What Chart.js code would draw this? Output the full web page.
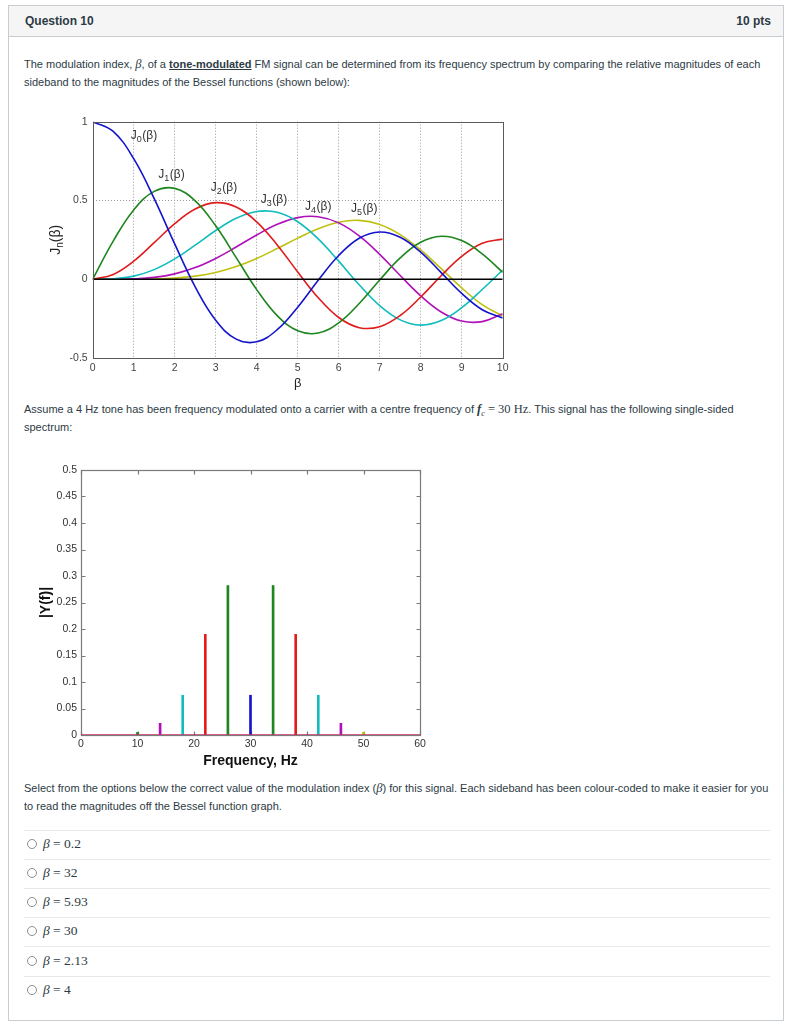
<!DOCTYPE html>
<html>
<head>
<meta charset="utf-8">
<script src="https://cdn.jsdelivr.net/npm/chart.js@4.4.0/dist/chart.umd.min.js"></script>
<style>
  body { margin: 0; background: #fff; font-family: "Liberation Sans", Arial, sans-serif; color: #2d3b45; }
  #card { position: absolute; left: 8px; top: 5px; width: 774px; height: 1014px; border: 1px solid #c7cdd1; }
  #head { position: absolute; left: 0; top: 0; width: 774px; height: 30px; background: #f5f5f5; border-bottom: 1px solid #c7cdd1; }
  #head b { position: absolute; top: 8px; font-size: 12px; }
  .t { position: absolute; left: 24px; font-size: 11px; line-height: 14px; white-space: nowrap; }
  .m { font-family: "Liberation Serif", "DejaVu Serif", serif; font-style: italic; font-size: 12.5px; }
  .r { font-family: "Liberation Serif", "DejaVu Serif", serif; font-size: 12.5px; }
  .sep { position: absolute; left: 24px; width: 746px; height: 1px; background: #e6e8ea; }
  .opt { position: absolute; left: 27px; font-family: "Liberation Serif", "DejaVu Serif", serif; font-size: 13.5px; line-height: 14px; white-space: nowrap; }
  .opt span { display: inline-block; width: 8px; height: 8px; border: 1px solid #8a8f94; border-radius: 50%; margin-right: 6px; vertical-align: -1px; }
  canvas { position: absolute; }
</style>
</head>
<body>
<div id="card">
  <div id="head"><b style="left:16px">Question 10</b><b style="right:12px">10 pts</b></div>
</div>

<div class="t" style="top:57px">The modulation index, <span class="m">β</span>, of a <b><u>tone-modulated</u></b> FM signal can be determined from its frequency spectrum by comparing the relative magnitudes of each</div>
<div class="t" style="top:75px">sideband to the magnitudes of the Bessel functions (shown below):</div>

<canvas id="bessel" width="500" height="285" style="left:20px;top:110px"></canvas>

<div class="t" style="top:402px">Assume a 4 Hz tone has been frequency modulated onto a carrier with a centre frequency of <span class="m"><b>f</b></span><sub style="font-size:8px" class="m">c</sub> <span class="r">= 30 Hz</span>. This signal has the following single-sided</div>
<div class="t" style="top:420px">spectrum:</div>

<canvas id="spectrum" width="420" height="320" style="left:20px;top:455px"></canvas>

<div class="t" style="top:781px">Select from the options below the correct value of the modulation index (<span class="m">β</span>) for this signal. Each sideband has been colour-coded to make it easier for you</div>
<div class="t" style="top:799px">to read the magnitudes off the Bessel function graph.</div>

<div class="sep" style="top:830px"></div>
<div class="opt" style="top:837px"><span></span><i>β</i> = 0.2</div>
<div class="sep" style="top:859px"></div>
<div class="opt" style="top:866px"><span></span><i>β</i> = 32</div>
<div class="sep" style="top:888px"></div>
<div class="opt" style="top:895px"><span></span><i>β</i> = 5.93</div>
<div class="sep" style="top:917px"></div>
<div class="opt" style="top:924px"><span></span><i>β</i> = 30</div>
<div class="sep" style="top:946px"></div>
<div class="opt" style="top:954px"><span></span><i>β</i> = 2.13</div>
<div class="sep" style="top:976px"></div>
<div class="opt" style="top:983px"><span></span><i>β</i> = 4</div>

<script>
// Bessel curves, every 0.5 in beta
var beta = [0, 0.5, 1, 1.5, 2, 2.5, 3, 3.5, 4, 4.5, 5, 5.5, 6, 6.5, 7, 7.5, 8, 8.5, 9, 9.5, 10];
var J0 = [1, 0.9385, 0.7652, 0.5118, 0.2239, -0.0484, -0.2601, -0.3801, -0.3971, -0.3205, -0.1776, -0.0068, 0.1506, 0.2601, 0.3001, 0.2663, 0.1717, 0.0419, -0.0903, -0.1939, -0.2459];
var J1 = [0, 0.2423, 0.4401, 0.5579, 0.5767, 0.4971, 0.3391, 0.1374, -0.0660, -0.2311, -0.3276, -0.3414, -0.2767, -0.1538, -0.0047, 0.1352, 0.2346, 0.2731, 0.2453, 0.1613, 0.0435];
var J2 = [0, 0.0306, 0.1149, 0.2321, 0.3528, 0.4461, 0.4861, 0.4586, 0.3641, 0.2178, 0.0466, -0.1173, -0.2429, -0.3074, -0.3014, -0.2303, -0.1130, 0.0223, 0.1448, 0.2279, 0.2546];
var J3 = [0, 0.0026, 0.0196, 0.0610, 0.1289, 0.2166, 0.3091, 0.3868, 0.4302, 0.4247, 0.3648, 0.2561, 0.1148, -0.0354, -0.1676, -0.2580, -0.2911, -0.2626, -0.1809, -0.0653, 0.0583];
var J4 = [0, 0.0002, 0.0025, 0.0118, 0.0340, 0.0737, 0.1321, 0.2044, 0.2811, 0.3484, 0.3912, 0.3967, 0.3576, 0.2748, 0.1578, 0.0239, -0.1054, -0.2077, -0.2655, -0.2691, -0.2196];
var J5 = [0, 0, 0.0003, 0.0018, 0.0070, 0.0195, 0.0430, 0.0804, 0.1320, 0.1947, 0.2611, 0.3209, 0.3621, 0.3736, 0.3479, 0.2835, 0.1857, 0.0671, -0.0551, -0.1613, -0.2340];
var besselNames = ['0', '1', '2', '3', '4', '5'];
var betaTicks = [0, 1, 2, 3, 4, 5, 6, 7, 8, 9, 10];
var jTicks = [-0.5, 0, 0.5, 1];
var jLabels = ['-0.5', '0', '0.5', '1'];

// single-sided spectrum
var specFreq = [10, 14, 18, 22, 26, 30, 34, 38, 42, 46, 50];
var specMag = [0.005, 0.022, 0.075, 0.19, 0.282, 0.075, 0.282, 0.19, 0.075, 0.022, 0.005];
var freqTicks = [0, 10, 20, 30, 40, 50, 60];
var magTicks = [0, 0.05, 0.1, 0.15, 0.2, 0.25, 0.3, 0.35, 0.4, 0.45, 0.5];
var magLabels = ['0', '0.05', '0.1', '0.15', '0.2', '0.25', '0.3', '0.35', '0.4', '0.45', '0.5'];

var blue = '#1414cc', green = '#1e861e', red = '#e01c1c', cyan = '#10bcbc', magenta = '#b010b8', yellow = '#c0c010';
var besselColors = [blue, green, red, cyan, magenta, yellow];
var specColors = [green, magenta, cyan, red, green, blue, green, red, cyan, magenta, yellow];
var labelAt = [[0.93, 0.89], [1.6, 0.64], [2.88, 0.56], [4.1, 0.485], [5.18, 0.442], [6.3, 0.427]];

var tickFont = { family: '"Liberation Sans", Arial, sans-serif', size: 10.5 };

function pts(ys) {
    return beta.map(function (b, i) { return { x: b, y: ys[i] }; });
}
function fixTicks(list) {
    return function (scale) { scale.ticks = list.map(function (v) { return { value: v }; }); };
}

var besselDecor = {
    id: 'besselDecor',
    afterDraw: function (chart) {
        var ctx = chart.ctx, a = chart.chartArea, x = chart.scales.x, y = chart.scales.y;
        ctx.save();
        ctx.strokeStyle = '#5a5a5a';
        ctx.lineWidth = 1;
        ctx.strokeRect(Math.round(a.left) + 0.5, Math.round(a.top) + 0.5, Math.round(a.right - a.left), Math.round(a.bottom - a.top));

        ctx.fillStyle = '#333';
        ctx.textAlign = 'left';
        ctx.textBaseline = 'alphabetic';
        besselNames.forEach(function (n, i) {
            var px = x.getPixelForValue(labelAt[i][0]);
            var py = y.getPixelForValue(labelAt[i][1]);
            ctx.font = '12px "Liberation Sans", Arial, sans-serif';
            ctx.fillText('J', px, py);
            px += ctx.measureText('J').width;
            ctx.font = '9px "Liberation Sans", Arial, sans-serif';
            ctx.fillText(n, px, py + 3);
            px += ctx.measureText(n).width + 0.5;
            ctx.font = '12px "Liberation Sans", Arial, sans-serif';
            ctx.fillText('(β)', px, py);
        });

        // axis titles
        ctx.fillStyle = '#222';
        ctx.font = '13px "Liberation Sans", Arial, sans-serif';
        ctx.textAlign = 'center';
        ctx.textBaseline = 'middle';
        ctx.fillText('β', (a.left + a.right) / 2, a.bottom + 25);

        ctx.translate(36, (a.top + a.bottom) / 2);
        ctx.rotate(-Math.PI / 2);
        ctx.textAlign = 'left';
        ctx.textBaseline = 'middle';
        ctx.font = '14px "Liberation Sans", Arial, sans-serif';
        var wJ = ctx.measureText('J').width, wP = ctx.measureText('(β)').width;
        ctx.font = '10px "Liberation Sans", Arial, sans-serif';
        var wN = ctx.measureText('n').width;
        var sx = -(wJ + wN + wP) / 2;
        ctx.font = '14px "Liberation Sans", Arial, sans-serif';
        ctx.fillText('J', sx, 0);
        ctx.font = '10px "Liberation Sans", Arial, sans-serif';
        ctx.fillText('n', sx + wJ, 4);
        ctx.font = '14px "Liberation Sans", Arial, sans-serif';
        ctx.fillText('(β)', sx + wJ + wN, 0);
        ctx.restore();
    }
};

var besselSets = [{
    data: [{ x: 0, y: 0 }, { x: 10, y: 0 }],
    borderColor: '#000', borderWidth: 1.6, pointRadius: 0, tension: 0
}];
[J0, J1, J2, J3, J4, J5].forEach(function (ys, i) {
    besselSets.push({
        data: pts(ys),
        borderColor: besselColors[i],
        borderWidth: 1.6,
        pointRadius: 0,
        tension: 0.4
    });
});

new Chart(document.getElementById('bessel'), {
    type: 'line',
    data: { datasets: besselSets },
    options: {
        responsive: false,
        animation: false,
        devicePixelRatio: 1,
        layout: { padding: { left: 0, top: 11.7, right: 17.3, bottom: 0 } },
        plugins: { legend: { display: false }, tooltip: { enabled: false } },
        scales: {
            x: {
                type: 'linear', min: 0, max: 10,
                afterBuildTicks: fixTicks(betaTicks),
                afterFit: function (s) { s.height = 37; },
                grid: {
                    drawTicks: false,
                    color: function (c) { return (c.tick && (c.tick.value === 0 || c.tick.value === 10)) ? 'rgba(0,0,0,0)' : '#9a9a9a'; }
                },
                border: { display: false, dash: [1, 2] },
                ticks: { padding: 4, color: '#444', font: tickFont, maxRotation: 0 }
            },
            y: {
                type: 'linear', min: -0.5, max: 1,
                afterBuildTicks: fixTicks(jTicks),
                afterFit: function (s) { s.width = 72.7; },
                grid: {
                    drawTicks: false,
                    color: function (c) { return (c.tick && c.tick.value === 0.5) ? '#9a9a9a' : 'rgba(0,0,0,0)'; }
                },
                border: { display: false, dash: [1, 2] },
                ticks: {
                    padding: 5, color: '#444', font: tickFont,
                    callback: function (v, i) { return jLabels[i]; }
                }
            }
        }
    },
    plugins: [besselDecor]
});

var specDecor = {
    id: 'specDecor',
    beforeDatasetsDraw: function (chart) {
        var ctx = chart.ctx, a = chart.chartArea, x = chart.scales.x, y = chart.scales.y;
        ctx.save();
        ctx.strokeStyle = '#7a7a7a';
        ctx.lineWidth = 1.2;
        var L = Math.round(a.left) + 0.5, R = Math.round(a.right) + 0.5, T = Math.round(a.top) + 0.5, B = Math.round(a.bottom) + 0.5;
        ctx.strokeRect(L, T, R - L, B - T);
        ctx.beginPath();
        magTicks.forEach(function (v) {
            var py = Math.round(y.getPixelForValue(v)) + 0.5;
            ctx.moveTo(L, py); ctx.lineTo(L + 4, py);
            ctx.moveTo(R, py); ctx.lineTo(R - 4, py);
        });
        freqTicks.forEach(function (v) {
            var px = Math.round(x.getPixelForValue(v)) + 0.5;
            ctx.moveTo(px, B); ctx.lineTo(px, B - 4);
            ctx.moveTo(px, T); ctx.lineTo(px, T + 4);
        });
        ctx.stroke();
        ctx.restore();
    }
};

new Chart(document.getElementById('spectrum'), {
    type: 'bar',
    data: {
        datasets: [{
            type: 'line',
            data: [{ x: 0, y: 0 }, { x: 60, y: 0 }],
            borderColor: '#c8306a', borderWidth: 1.5, pointRadius: 0
        }, {
            data: specFreq.map(function (f, i) { return { x: f, y: specMag[i] }; }),
            backgroundColor: specColors,
            barThickness: 2
        }]
    },
    options: {
        responsive: false,
        animation: false,
        devicePixelRatio: 1,
        layout: { padding: { left: 0, top: 15, right: 20, bottom: 0 } },
        plugins: { legend: { display: false }, tooltip: { enabled: false } },
        scales: {
            x: {
                type: 'linear', min: 0, max: 60, offset: false,
                afterBuildTicks: fixTicks(freqTicks),
                afterFit: function (s) { s.height = 40; },
                grid: { display: false, drawTicks: false },
                border: { display: false },
                ticks: { padding: 3, color: '#333', font: tickFont, maxRotation: 0 },
                title: {
                    display: true, text: 'Frequency, Hz', color: '#111',
                    font: { family: '"Liberation Sans", Arial, sans-serif', size: 14, weight: 'bold' },
                    padding: { top: 0, bottom: 5 }
                }
            },
            y: {
                type: 'linear', min: 0, max: 0.5,
                afterBuildTicks: fixTicks(magTicks),
                afterFit: function (s) { s.width = 61; },
                grid: { display: false, drawTicks: false },
                border: { display: false },
                ticks: {
                    padding: 4, color: '#333', font: tickFont,
                    callback: function (v, i) { return magLabels[i]; }
                },
                title: {
                    display: true, text: '|Y(f)|', color: '#111',
                    font: { family: '"Liberation Sans", Arial, sans-serif', size: 14, weight: 'bold' },
                    padding: { top: 17.3, bottom: 0 }
                }
            }
        }
    },
    plugins: [specDecor]
});
</script>
</body>
</html>
